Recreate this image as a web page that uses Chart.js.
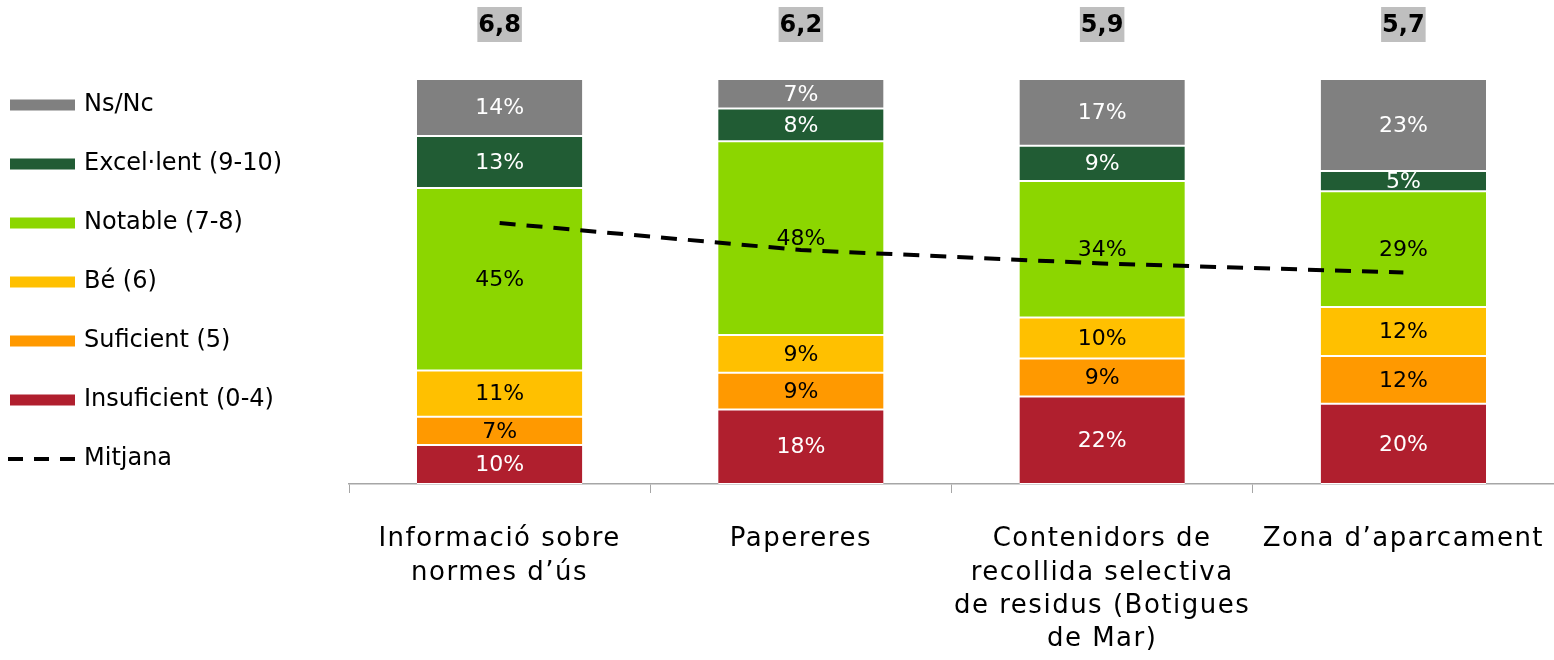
<!DOCTYPE html>
<html>
<head>
  <meta charset="UTF-8">
  <title>Valoració</title>
  <script src="https://cdn.jsdelivr.net/npm/chart.js"></script>
  <style>
    html, body { margin: 0; padding: 0; background: #fff; }
    .grafic_cont { width: 1554px; height: 660px; position: relative; }
  </style>
</head>
<body>
  <div class="grafic_cont">
    <canvas id="myChart"></canvas>
  </div>
  <script>
    // categories (multi-line tick labels)
    var categories = [
      ['Informació sobre', 'normes d’ús'],
      ['Papereres'],
      ['Contenidors de', 'recollida selectiva', 'de residus (Botigues', 'de Mar)'],
      ['Zona d’aparcament']
    ];

    // % per category
    var insuficient = [9.6, 18.4, 21.6, 19.8];
    var suficient   = [7.0, 9.1, 9.4, 11.8];
    var be          = [11.4, 9.3, 10.1, 12.1];
    var notable     = [45.1, 47.8, 33.7, 28.6];
    var excellent   = [12.8, 8.1, 8.7, 5.0];
    var nsnc        = [14.1, 7.3, 16.5, 22.7];

    // average score (0-10)
    var mitjana = [6.8, 6.2, 5.9, 5.7];

    var FONT = 'DejaVu Sans';

    function barSet(label, data, color, textColor) {
      return {
        type: 'bar',
        label: label,
        data: data,
        backgroundColor: color,
        borderColor: '#ffffff',
        borderWidth: { top: 1, bottom: 1, left: 0, right: 0 },
        borderSkipped: false,
        yAxisID: 'y',
        order: 1,
        labelColor: textColor
      };
    }

    // a bit of extra spacing for the axis labels only (axis layer is drawn before the datasets)
    var spacing = {
      id: 'spacing',
      beforeDraw: function (chart) { chart.ctx.letterSpacing = '1.5px'; },
      beforeDatasetsDraw: function (chart) { chart.ctx.letterSpacing = '0px'; }
    };

    // labels inside the bars
    var valueLabels = {
      id: 'valueLabels',
      afterDatasetsDraw: function (chart) {
        var ctx = chart.ctx;
        ctx.save();
        ctx.letterSpacing = '0px';
        ctx.font = '22px "' + FONT + '"';
        ctx.textAlign = 'center';
        ctx.textBaseline = 'middle';
        chart.data.datasets.forEach(function (ds, di) {
          if (ds.type !== 'bar') return;
          var meta = chart.getDatasetMeta(di);
          meta.data.forEach(function (bar, i) {
            ctx.fillStyle = ds.labelColor;
            ctx.fillText(Math.round(ds.data[i]) + '%', bar.x, (bar.y + bar.base) / 2 + 1);
          });
        });
        ctx.restore();
      }
    };

    // mean value boxes above the bars
    var meanBoxes = {
      id: 'meanBoxes',
      afterDraw: function (chart) {
        var ctx = chart.ctx;
        var xs = chart.scales.x;
        ctx.save();
        ctx.letterSpacing = '0px';
        ctx.font = 'bold 24px "' + FONT + '"';
        ctx.textAlign = 'center';
        ctx.textBaseline = 'middle';
        mitjana.forEach(function (v, i) {
          var txt = v.toFixed(1).replace('.', ',');
          var x = xs.getPixelForValue(i);
          var w = ctx.measureText(txt).width + 2;
          ctx.fillStyle = '#bfbfbf';
          ctx.fillRect(x - w / 2, 7, w, 35);
          ctx.fillStyle = '#000';
          ctx.fillText(txt, x, 26);
        });
        ctx.restore();
      }
    };

    // legend on the left
    var sideLegend = {
      id: 'sideLegend',
      afterDraw: function (chart) {
        var ctx = chart.ctx;
        var ds = chart.data.datasets;
        var items = [];
        for (var k = ds.length - 1; k >= 0; k--) {
          if (ds[k].type === 'bar') items.push(ds[k]);
        }
        ds.forEach(function (d) { if (d.type === 'line') items.push(d); });
        ctx.save();
        ctx.letterSpacing = '0px';
        ctx.font = '24px "' + FONT + '"';
        ctx.textBaseline = 'middle';
        ctx.textAlign = 'left';
        items.forEach(function (d, n) {
          var y = 105 + n * 59;
          if (d.type === 'bar') {
            ctx.fillStyle = d.backgroundColor;
            ctx.fillRect(10, y - 5.5, 65, 11);
          } else {
            ctx.strokeStyle = d.borderColor;
            ctx.lineWidth = d.borderWidth;
            ctx.setLineDash([15, 11]);
            ctx.beginPath();
            ctx.moveTo(8, y);
            ctx.lineTo(77, y);
            ctx.stroke();
            ctx.setLineDash([]);
          }
          ctx.fillStyle = '#000';
          ctx.fillText(d.label, 84, y);
        });
        ctx.restore();
      }
    };

    var ctx = document.getElementById('myChart').getContext('2d');
    var chart = new Chart(ctx, {
      data: {
        labels: categories,
        datasets: [
          barSet('Insuficient (0-4)', insuficient, '#b01f2e', '#ffffff'),
          barSet('Suficient (5)', suficient, '#ff9900', '#000000'),
          barSet('Bé (6)', be, '#ffc000', '#000000'),
          barSet('Notable (7-8)', notable, '#8cd600', '#000000'),
          barSet('Excel·lent (9-10)', excellent, '#215c34', '#ffffff'),
          barSet('Ns/Nc', nsnc, '#808080', '#ffffff'),
          {
            type: 'line',
            label: 'Mitjana',
            data: mitjana,
            borderColor: '#000000',
            borderWidth: 4,
            borderDash: [16, 11],
            pointRadius: 0,
            fill: false,
            tension: 0,
            yAxisID: 'y2',
            order: 0
          }
        ]
      },
      options: {
        responsive: true,
        maintainAspectRatio: false,
        animation: false,
        layout: { padding: { left: 349, top: 79, right: 0, bottom: 0 } },
        plugins: {
          legend: { display: false },
          tooltip: { enabled: false }
        },
        datasets: {
          bar: { categoryPercentage: 1, barPercentage: 0.549 }
        },
        scales: {
          x: {
            stacked: true,
            offset: true,
            grid: { offset: true, drawOnChartArea: false, tickLength: 9, color: '#a6a6a6' },
            border: { color: '#a6a6a6', width: 1.5 },
            ticks: {
              font: { family: FONT, size: 26, lineHeight: 1.28 },
              color: '#000',
              padding: 30,
              maxRotation: 0,
              autoSkip: false
            },
            afterFit: function (s) {
              s.height = 176;
              s.paddingLeft = 0;
              s.paddingRight = 0;
            }
          },
          y: { stacked: true, min: 0, max: 100, display: false },
          y2: { min: 1, max: 10, display: false, position: 'right' }
        }
      },
      plugins: [spacing, valueLabels, meanBoxes, sideLegend]
    });
  </script>
</body>
</html>
